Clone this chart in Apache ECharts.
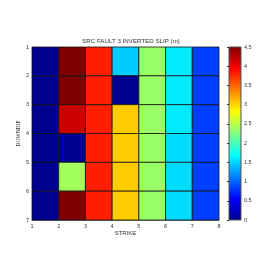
<!DOCTYPE html>
<html><head><meta charset="utf-8">
<script src="https://cdn.jsdelivr.net/npm/echarts@6/dist/echarts.min.js"></script>
<style>html,body{margin:0;padding:0;background:#fff}#c{width:274px;height:274px}</style>
</head><body><div id="c"></div>
<script>
const titleText = 'SRC FAULT 3 INVERTED SLIP (m)';
const strikeTicks = [1, 2, 3, 4, 5, 6, 7, 8];
const downdipTicks = [1, 2, 3, 4, 5, 6, 7];
// slip per cell, rows = downdip 1..6, columns = strike 1..7
const row1 = [0, 4.5, 3.8, 1.46, 2.36, 1.6, 0.84];
const row2 = [0, 4.5, 3.8, 0, 2.36, 1.6, 0.84];
const row3 = [0, 4.16, 3.8, 3.04, 2.36, 1.6, 0.84];
const row4 = [0, 0, 3.8, 3.04, 2.36, 1.53, 0.84];
const row5 = [0, 2.4, 3.8, 3.04, 2.36, 1.53, 0.84];
const row6 = [0, 4.5, 3.8, 3.04, 2.36, 1.53, 0.84];
const slipRows = [row1, row2, row3, row4, row5, row6];
const colorbarTicks = [0, 0.5, 1, 1.5, 2, 2.5, 3, 3.5, 4, 4.5];
const jet = ['#000090', '#0000ff', '#0080ff', '#00ffff', '#80ff80', '#ffff00', '#ff8000', '#ff0000', '#800000'];

const cells = [];
slipRows.forEach((row, r) => row.forEach((v, c) => cells.push([strikeTicks[c], downdipTicks[r], v])));
const cmin = colorbarTicks[0], cmax = colorbarTicks[colorbarTicks.length - 1];

const font = 'Liberation Sans';
const txt = '#333';
const chart = echarts.init(document.getElementById('c'), null, {renderer: 'canvas'});
chart.setOption({
  animation: false,
  backgroundColor: '#fff',
  title: {text: titleText, left: 126, top: 33, textAlign: 'center',
    textStyle: {fontSize: 6.2, fontWeight: 'normal', color: txt, fontFamily: font}},
  grid: [
    {left: 32, top: 47, width: 187, height: 173},
    {left: 229, top: 47, width: 12, height: 173}
  ],
  visualMap: {show: false, type: 'continuous', min: cmin, max: cmax, dimension: 2, seriesIndex: 0,
    inRange: {color: jet}},
  xAxis: [
    {gridIndex: 0, type: 'value', min: strikeTicks[0], max: strikeTicks[strikeTicks.length - 1], interval: 1,
      name: 'STRIKE', nameLocation: 'middle', nameGap: 10, nameMoveOverlap: false,
      nameTextStyle: {fontSize: 6, color: txt, fontFamily: font},
      axisLine: {lineStyle: {color: '#778', width: 1}}, axisTick: {show: false}, splitLine: {show: false},
      axisLabel: {fontSize: 5.5, color: txt, fontFamily: font, margin: 3}},
    {gridIndex: 1, type: 'value', min: 0, max: 1, show: false}
  ],
  yAxis: [
    {gridIndex: 0, type: 'value', min: downdipTicks[0], max: downdipTicks[downdipTicks.length - 1], interval: 1, inverse: true,
      name: 'DOWNDIP', nameLocation: 'middle', nameGap: 10, nameRotate: 90, nameMoveOverlap: false,
      nameTextStyle: {fontSize: 5.5, color: txt, fontFamily: 'Liberation Sans Narrow'},
      axisLine: {lineStyle: {color: '#778', width: 1}}, axisTick: {show: false}, splitLine: {show: false},
      axisLabel: {fontSize: 5.5, color: txt, fontFamily: font, margin: 3}},
    {gridIndex: 1, type: 'value', min: cmin, max: cmax, interval: 0.5, position: 'right',
      axisLine: {show: false}, splitLine: {show: false},
      axisTick: {show: true, inside: true, length: 2, lineStyle: {color: '#333'}},
      axisLabel: {fontSize: 5.5, color: txt, fontFamily: font, margin: 3}}
  ],
  series: [
    {type: 'custom', xAxisIndex: 0, yAxisIndex: 0, data: cells,
      renderItem: function (params, api) {
        const x = api.value(0), y = api.value(1);
        const p0 = api.coord([x, y]), p1 = api.coord([x + 1, y + 1]);
        return {type: 'rect',
          shape: {x: Math.min(p0[0], p1[0]), y: Math.min(p0[1], p1[1]),
            width: Math.abs(p1[0] - p0[0]), height: Math.abs(p1[1] - p0[1])},
          style: {fill: api.visual('color'), stroke: '#111', lineWidth: 0.8}};
      }},
    {type: 'custom', xAxisIndex: 1, yAxisIndex: 1, data: [[0, cmin, cmax]], z: 1,
      renderItem: function (params, api) {
        const p0 = api.coord([0, api.value(1)]), p1 = api.coord([1, api.value(2)]);
        const stops = jet.map((c, i) => ({offset: i / (jet.length - 1), color: c}));
        return {type: 'rect',
          shape: {x: p0[0], y: p1[1], width: p1[0] - p0[0], height: p0[1] - p1[1]},
          style: {fill: {type: 'linear', x: 0, y: 1, x2: 0, y2: 0, colorStops: stops},
            stroke: '#555', lineWidth: 1}};
      }}
  ]
});
</script></body></html>
